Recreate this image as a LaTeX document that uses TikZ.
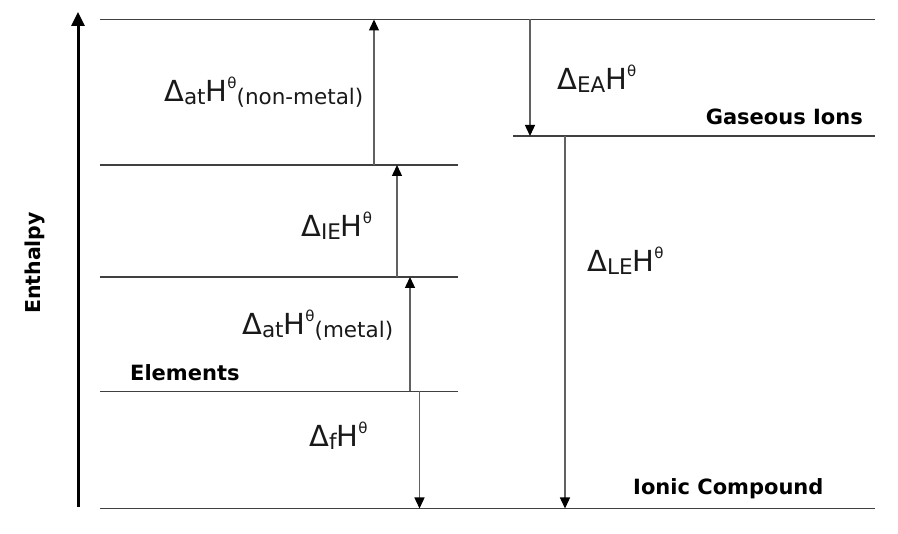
\documentclass[tikz,border=0pt]{standalone}
\usepackage{fontspec}
\setmainfont{DejaVu Sans}
\usetikzlibrary{arrows.meta}
\newcommand{\dH}[2]{{\fontsize{29}{29}\selectfont Δ\raisebox{-3pt}{\fontsize{21.5}{21.5}\selectfont #1}H\raisebox{13pt}{\fontsize{15}{15}\selectfont θ}\raisebox{-3pt}{\fontsize{21.5}{21.5}\selectfont #2}}}
\begin{document}
\begin{tikzpicture}[x=1pt,y=-1pt,
  level/.style={draw=black!75, line width=1.8pt},
  step arrow/.style={draw=black!62, line width=1.4pt, -{Triangle[width=10pt,length=11pt,color=black]}},
  lab/.style={anchor=base west, inner sep=0pt, text=black!90},
  bold lab/.style={anchor=base west, inner sep=0pt, font=\bfseries\fontsize{21}{21}\selectfont}]
\useasboundingbox (0,0) rectangle (898,534);
% level coordinates
\coordinate (T0) at (100,19.5); \coordinate (T1) at (875,19.5);
\coordinate (G0) at (513,136); \coordinate (G1) at (875,136);
\coordinate (A0) at (100,165); \coordinate (A1) at (458,165);
\coordinate (B0) at (100,277); \coordinate (B1) at (458,277);
\coordinate (E0) at (100,391.5); \coordinate (E1) at (458,391.5);
\coordinate (I0) at (100,508.5); \coordinate (I1) at (875,508.5);
\draw[level] (T0) -- (T1);
\draw[level] (G0) -- (G1);
\draw[level] (A0) -- (A1);
\draw[level] (B0) -- (B1);
\draw[level] (E0) -- (E1);
\draw[level] (I0) -- (I1);
% arrow ends
\coordinate (nmS) at (374,165); \coordinate (nmE) at (374,19.5);
\coordinate (ieS) at (397,277); \coordinate (ieE) at (397,165);
\coordinate (mS) at (410,391.5); \coordinate (mE) at (410,277);
\coordinate (fS) at (419.5,391.5); \coordinate (fE) at (419.5,508.5);
\coordinate (eaS) at (530,19.5); \coordinate (eaE) at (530,136);
\coordinate (leS) at (565,136); \coordinate (leE) at (565,508.5);
\draw[step arrow] (nmS) -- (nmE);
\draw[step arrow] (ieS) -- (ieE);
\draw[step arrow] (mS) -- (mE);
\draw[step arrow] (fS) -- (fE);
\draw[step arrow] (eaS) -- (eaE);
\draw[step arrow] (leS) -- (leE);
% enthalpy axis
\coordinate (ax0) at (78,507); \coordinate (ax1) at (78,12);
\draw[line width=3pt, -{Triangle[width=13pt,length=14pt]}] (ax0) -- (ax1);
\node[rotate=90, font=\bfseries\fontsize{20.5}{20.5}\selectfont] (enth) at (35,263) {Enthalpy};
% labels
\node[lab] (lnm) at (164,102) {\dH{at}{(non-metal)}};
\node[lab] (lea) at (557,90) {\dH{EA}{}};
\node[lab] (lie) at (301,237) {\dH{IE}{}};
\node[lab] (lle) at (587,272) {\dH{LE}{}};
\node[lab] (lm) at (242,335) {\dH{at}{(metal)}};
\node[lab] (lf) at (309,447) {\dH{f}{}};
\node[bold lab, anchor=base east] (gas) at (863,125) {Gaseous Ions};
\node[bold lab] (elem) at (130,381) {Elements};
\node[bold lab] (ionic) at (633,495) {Ionic Compound};
\end{tikzpicture}
\end{document}
